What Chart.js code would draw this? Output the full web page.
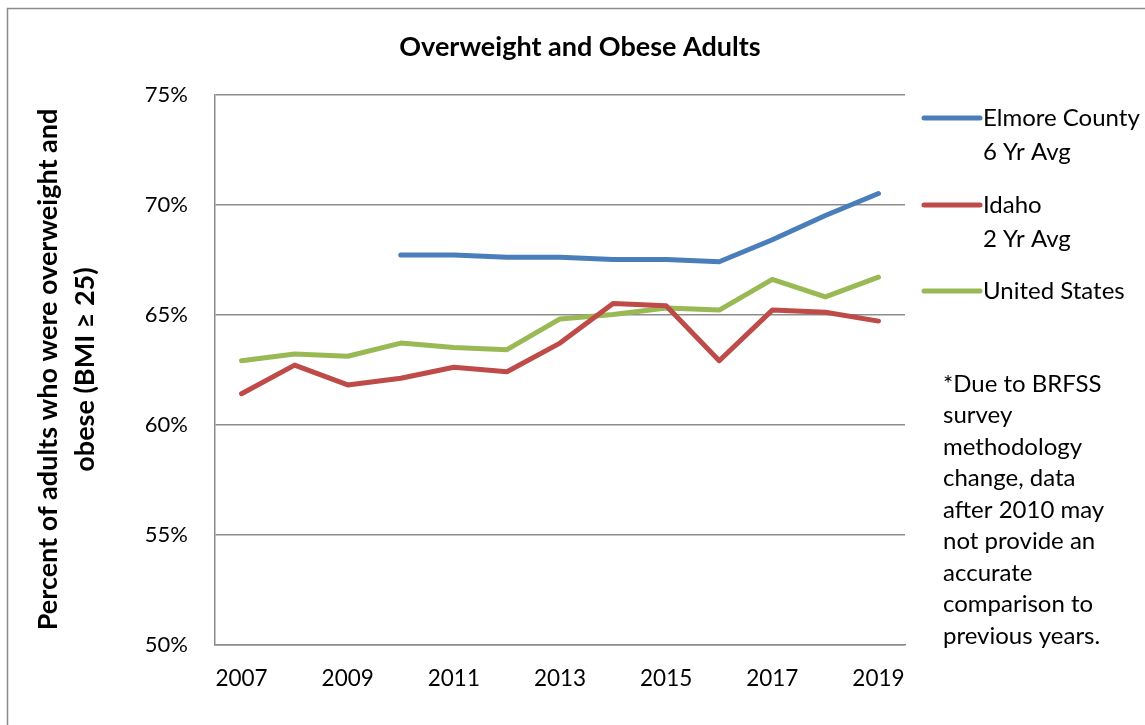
<!DOCTYPE html>
<html><head><meta charset="utf-8">
<script src="https://cdn.jsdelivr.net/npm/chart.js@4"></script>
<style>html,body{margin:0;padding:0;background:#fff}</style>
</head><body>
<canvas id="c" width="1145" height="725" style="width:1145px;height:725px;display:block"></canvas>
<script>
const years = ['2007','2008','2009','2010','2011','2012','2013','2014','2015','2016','2017','2018','2019'];
const elmore = [null, null, null, 67.7, 67.7, 67.6, 67.6, 67.5, 67.5, 67.4, 68.4, 69.5, 70.5];
const idaho = [61.4, 62.7, 61.8, 62.1, 62.6, 62.4, 63.7, 65.5, 65.4, 62.9, 65.2, 65.1, 64.7];
const us = [62.9, 63.2, 63.1, 63.7, 63.5, 63.4, 64.8, 65.0, 65.3, 65.2, 66.6, 65.8, 66.7];
const seriesLabels = [['Elmore County', '6 Yr Avg'], ['Idaho', '2 Yr Avg'], ['United States']];
const seriesColors = ['#4A7EBB', '#BE4B48', '#98B954'];
const yMin = 50, yMax = 75, yStep = 5;
const chartTitle = 'Overweight and Obese Adults';
const yTitle = ['Percent of adults who were overweight and', 'obese (BMI \u2265 25)'];
const noteLines = ['*Due to BRFSS', 'survey', 'methodology', 'change, data', 'after 2010 may', 'not provide an', 'accurate', 'comparison to', 'previous years.'];

const FONT = 'Lato, "Open Sans", sans-serif';
const GRID = '#8C8C8C';

const framePlugin = {
  id: 'frame',
  beforeDraw(chart) {
    const ctx = chart.ctx;
    ctx.save();
    ctx.fillStyle = '#fff';
    ctx.fillRect(0, 0, chart.width, chart.height);
    ctx.strokeStyle = GRID;
    ctx.lineWidth = 1.5;
    ctx.strokeRect(7.5, 8.5, chart.width + 20, chart.height + 20);
    ctx.restore();
  },
  afterDraw(chart) {
    const ctx = chart.ctx;
    ctx.save();
    const legendX = 924, lineLen = 56, textX = 983;
    const legendY = [118, 205, 291];
    const lh = 34;
    ctx.font = '24px ' + FONT;
    ctx.textBaseline = 'middle';
    ctx.textAlign = 'left';
    chart.data.datasets.forEach((ds, i) => {
      ctx.strokeStyle = ds.borderColor;
      ctx.lineWidth = 5;
      ctx.lineCap = 'round';
      ctx.beginPath();
      ctx.moveTo(legendX, legendY[i]);
      ctx.lineTo(legendX + lineLen, legendY[i]);
      ctx.stroke();
      ctx.fillStyle = '#000';
      seriesLabels[i].forEach((t, j) => ctx.fillText(t, textX, legendY[i] + j * lh));
    });
    noteLines.forEach((t, j) => ctx.fillText(t, 943, 384 + j * 31.5));
    ctx.restore();
  }
};

new Chart(document.getElementById('c'), {
  type: 'line',
  data: {
    labels: years,
    datasets: [
      { label: seriesLabels[0].join(' '), data: elmore, borderColor: seriesColors[0], backgroundColor: seriesColors[0] },
      { label: seriesLabels[1].join(' '), data: idaho, borderColor: seriesColors[1], backgroundColor: seriesColors[1] },
      { label: seriesLabels[2].join(' '), data: us, borderColor: seriesColors[2], backgroundColor: seriesColors[2] }
    ].map(d => Object.assign(d, {
      borderWidth: 5, pointRadius: 0, pointHoverRadius: 0, tension: 0, fill: false,
      spanGaps: false, borderCapStyle: 'round', borderJoinStyle: 'round', yAxisID: 'y'
    }))
  },
  options: {
    responsive: false,
    animation: false,
    devicePixelRatio: 1,
    layout: { padding: { left: 15, right: 0, top: 0, bottom: 0 } },
    plugins: {
      legend: { display: false },
      tooltip: { enabled: false },
      title: {
        display: true, text: chartTitle, color: '#000',
        font: { family: FONT, size: 27, weight: 'bold', lineHeight: 1.2 },
        padding: { top: 31.3, bottom: 30.8 }
      }
    },
    scales: {
      x: {
        type: 'category', offset: true,
        grid: { display: false, drawTicks: false },
        border: { display: true, color: GRID, width: 1.5 },
        ticks: {
          autoSkip: false, maxRotation: 0, padding: 21, color: '#000',
          font: { family: FONT, size: 22.5 },
          callback: (v, i) => (i % 2 === 0 ? years[i] : '')
        },
        afterFit: s => { s.height = 80.5; }
      },
      y: {
        position: 'left', min: yMin, max: yMax,
        grid: { color: GRID, lineWidth: 1.5, drawTicks: false },
        border: { display: true, color: GRID, width: 1.5 },
        ticks: {
          stepSize: yStep, padding: 27, color: '#000',
          font: { family: FONT, size: 22 },
          callback: v => v + '%'
        },
        title: {
          display: true, text: yTitle, color: '#000',
          font: { family: FONT, size: 27, weight: 'bold', lineHeight: 1.37 },
          padding: { top: 14.5, bottom: 0 }
        },
        afterFit: s => { s.width = 200; }
      },
      pad: {
        position: 'right', display: true,
        grid: { display: false, drawTicks: false },
        border: { display: false },
        ticks: { display: false },
        afterFit: s => { s.width = 240; }
      }
    }
  },
  plugins: [framePlugin]
});
</script>
</body></html>
